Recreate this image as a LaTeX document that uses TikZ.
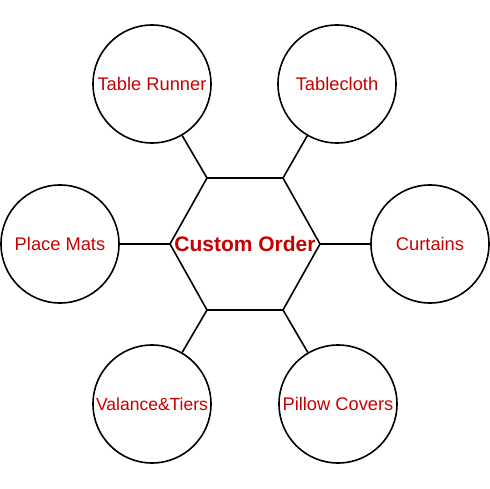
\documentclass[tikz,border=0pt]{standalone}
\usepackage{fontspec}
\setmainfont{Liberation Sans}
\definecolor{labelred}{RGB}{200,0,0}
\begin{document}
\begin{tikzpicture}[x=1pt,y=-1pt,
  conn/.style={draw=black,line width=1.6pt},
  item/.style={circle,draw=black,line width=1.6pt,minimum size=118pt,inner sep=0pt,outer sep=0pt,
    text=labelred,font=\fontsize{18.3}{21}\selectfont},
  centre/.style={inner sep=0pt,text=labelred,font=\fontsize{21}{24}\selectfont\bfseries}]
\useasboundingbox (0,0) rectangle (490,489);
% hexagon corners
\coordinate (h0)   at (320,244);
\coordinate (h60)  at (283,178);
\coordinate (h120) at (207,178);
\coordinate (h180) at (170,244);
\coordinate (h240) at (207,310);
\coordinate (h300) at (283,310);
\draw[conn,line join=miter] (h0)--(h60)--(h120)--(h180)--(h240)--(h300)--cycle;
\node[centre] (co) at (245,244) {Custom Order};
% outer circles
\node[item] (tr) at (152,84)  {Table Runner};
\node[item] (tc) at (337,84)  {Tablecloth};
\node[item] (pm) at (60,244)  {Place Mats};
\node[item] (cu) at (430,244) {Curtains};
\node[item,font=\fontsize{17.5}{20}\selectfont] (vt) at (152,404) {Valance\&Tiers};
\node[item] (pc) at (338,404) {Pillow Covers};
% connectors
\draw[conn] (h120) -- (tr);
\draw[conn] (h60)  -- (tc);
\draw[conn] (h180) -- (pm);
\draw[conn] (h0)   -- (cu);
\draw[conn] (h240) -- (vt);
\draw[conn] (h300) -- (pc);
\end{tikzpicture}
\end{document}
